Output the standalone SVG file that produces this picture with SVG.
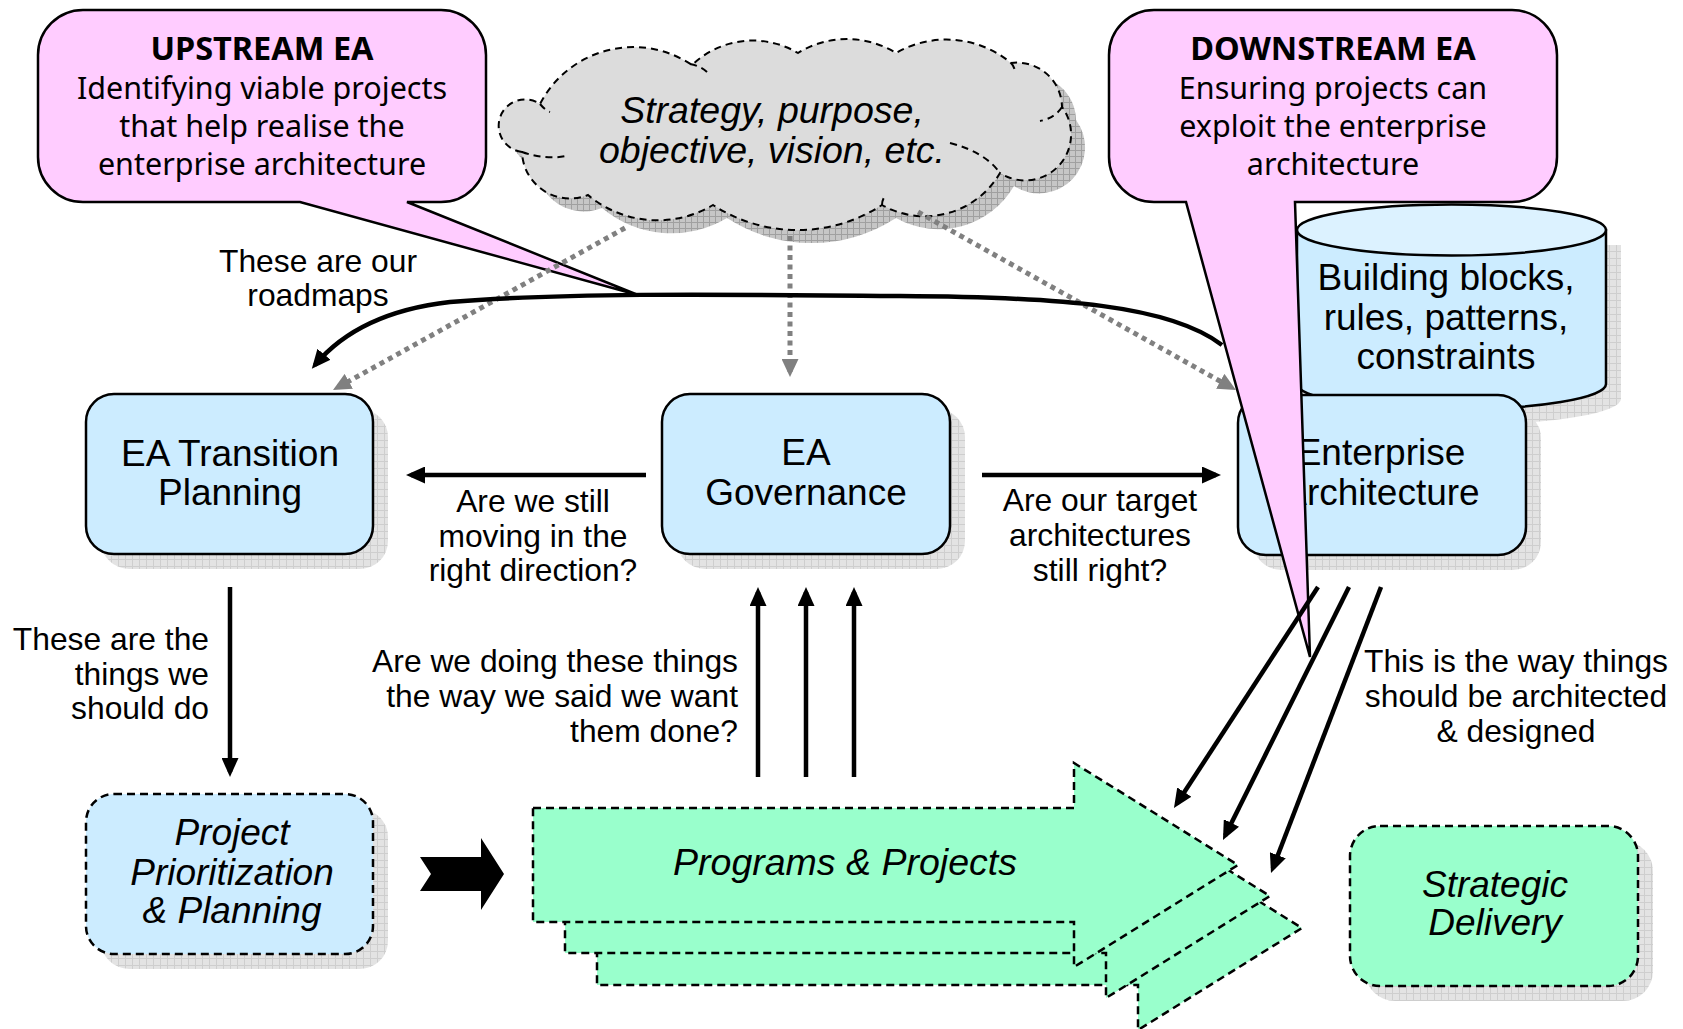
<svg xmlns="http://www.w3.org/2000/svg" width="1683" height="1029" viewBox="0 0 1683 1029">
<defs>
<style>
.t{font-family:"Liberation Sans",Arial,sans-serif;fill:#000}
.nt{font-size:37px;text-anchor:middle}
.lb{font-size:31.8px}
.mid{text-anchor:middle}
.end{text-anchor:end}
.it{font-style:italic}
.big{font-size:37.5px}
.co{font-family:"Noto Sans","DejaVu Sans",sans-serif;font-size:30.5px;text-anchor:middle;fill:#000}
.cob{font-weight:bold;font-size:32.5px}
.blue{fill:#CCECFF;stroke:#000;stroke-width:2.5}
.green{fill:#99FFCC;stroke:#000;stroke-width:2.5;stroke-dasharray:8 5}
.dash{stroke-dasharray:8 5}
.pink{fill:#FFCCFF;stroke:#000;stroke-width:2.5;stroke-linejoin:miter}
.sh{fill:url(#grid)}
.arr{fill:none;stroke:#000;stroke-width:4.5;marker-end:url(#ah)}
.dot{fill:none;stroke:#808080;stroke-width:5;stroke-dasharray:5 4.5;marker-end:url(#gah)}
</style>
<pattern id="grid" width="7" height="7" patternUnits="userSpaceOnUse"><rect width="7" height="7" fill="#E3E3E3"/><path d="M6.5,0 V7 M0,6.5 H7" stroke="#CECECE" stroke-width="1"/></pattern>
<pattern id="grid2" width="6" height="6" patternUnits="userSpaceOnUse"><rect width="6" height="6" fill="#C6C6C6"/><path d="M5.5,0 V6 M0,5.5 H6" stroke="#A0A0A0" stroke-width="1"/></pattern>
<marker id="ah" markerUnits="userSpaceOnUse" viewBox="0 0 19 17" markerWidth="19" markerHeight="17" refX="14" refY="8.5" orient="auto"><path d="M0,0 L19,8.5 L0,17 Z" fill="#000"/></marker>
<marker id="gah" markerUnits="userSpaceOnUse" viewBox="0 0 18 17" markerWidth="18" markerHeight="17" refX="13" refY="8.5" orient="auto"><path d="M0,0 L18,8.5 L0,17 Z" fill="#808080"/></marker>
<path id="cloudp" d="M522,152 A26.4,26.4 0 1 1 540,104 A105,105 0 0 1 692,65 A88,88 0 0 1 798,53 A93,93 0 0 1 896,53 A101,101 0 0 1 1011,63 A45,45 0 0 1 1062,107 A46,46 0 0 1 1000,173 A87,87 0 0 1 882,205 A155,155 0 0 1 713,205 A108,108 0 0 1 588,195 A48,48 0 0 1 522,152 Z"/>
</defs>
<rect width="1683" height="1029" fill="#fff"/>

<g id="cloud">
<use href="#cloudp" transform="translate(14,13)" fill="url(#grid2)"/>
<use href="#cloudp" fill="#DCDCDC" stroke="#000" stroke-width="2" stroke-dasharray="7 5"/>
<path d="M522,152 Q545,160 566,156 M690,64 Q701,66 708,73 M950,143 Q985,152 1000,173 M1062,107 Q1055,118 1040,121 M1011,63 Q1014,66 1015,71 M882,205 Q882,200 885,196 M540,104 Q545,110 550,112" fill="none" stroke="#000" stroke-width="2" stroke-dasharray="7 5"/>
<text class="t it mid big" x="772" y="123">Strategy, purpose,</text>
<text class="t it mid big" x="772" y="163">objective, vision, etc.</text>
</g>

<g id="building-blocks">
<path d="M1312,245 V399 A154.5,25.5 0 0 0 1621,399 V245 Z" class="sh"/>
<path d="M1297,230 V384 A154.5,25.5 0 0 0 1606,384 V230 Z" class="blue"/>
<ellipse cx="1451.5" cy="230" rx="154.5" ry="25.5" fill="#DCF2FF" stroke="#000" stroke-width="2.5"/>
<text class="t nt" x="1446" y="290">Building blocks,</text>
<text class="t nt" x="1446" y="330">rules, patterns,</text>
<text class="t nt" x="1446" y="369">constraints</text>
</g>

<g id="ea-transition">
<rect x="101" y="409" width="287" height="160" rx="28" class="sh"/>
<rect x="86" y="394" width="287" height="160" rx="28" class="blue"/>
<text class="t nt" x="230" y="466">EA Transition</text>
<text class="t nt" x="230" y="505">Planning</text>
</g>

<g id="ea-governance">
<rect x="677" y="409" width="288" height="160" rx="28" class="sh"/>
<rect x="662" y="394" width="288" height="160" rx="28" class="blue"/>
<text class="t nt" x="806" y="465">EA</text>
<text class="t nt" x="806" y="505">Governance</text>
</g>

<g id="enterprise-architecture">
<rect x="1253" y="410" width="288" height="160" rx="28" class="sh"/>
<rect x="1238" y="395" width="288" height="160" rx="28" class="blue"/>
<text class="t nt" x="1381" y="465">Enterprise</text>
<text class="t nt" x="1381" y="505">Architecture</text>
</g>

<g id="project-prioritization">
<rect x="101" y="809" width="287" height="160" rx="28" class="sh"/>
<rect x="86" y="794" width="287" height="160" rx="28" class="blue dash"/>
<text class="t nt it" x="232" y="845">Project</text>
<text class="t nt it" x="232" y="885">Prioritization</text>
<text class="t nt it" x="232" y="923">&amp; Planning</text>
</g>

<g id="strategic-delivery">
<rect x="1365" y="841" width="288" height="160" rx="30" class="sh"/>
<rect x="1350" y="826" width="288" height="160" rx="30" class="green"/>
<text class="t nt it" x="1495" y="897">Strategic</text>
<text class="t nt it" x="1495" y="935">Delivery</text>
</g>

<g id="programs-projects">
<polygon points="597,871 1138,871 1138,826 1302,928 1138,1030 1138,985 597,985" class="green"/>
<polygon points="565,839 1106,839 1106,794 1270,896 1106,998 1106,953 565,953" class="green"/>
<polygon points="533,808 1074,808 1074,763 1238,865 1074,967 1074,922 533,922" class="green"/>
<text class="t it mid big" x="845" y="875">Programs &amp; Projects</text>
</g>

<g id="upstream-ea">
<path class="pink" d="M83,10 H441 A45,45 0 0 1 486,55 V157 A45,45 0 0 1 441,202 H407 L638,295 L300,202 H83 A45,45 0 0 1 38,157 V55 A45,45 0 0 1 83,10 Z"/>
<text class="co cob" x="262" y="60">UPSTREAM EA</text>
<text class="co" x="262" y="99">Identifying viable projects</text>
<text class="co" x="262" y="137">that help realise the</text>
<text class="co" x="262" y="175">enterprise architecture</text>
</g>

<g id="downstream-ea">
<path class="pink" d="M1154,10 H1512 A45,45 0 0 1 1557,55 V157 A45,45 0 0 1 1512,202 H1295 L1310,657 L1186,202 H1154 A45,45 0 0 1 1109,157 V55 A45,45 0 0 1 1154,10 Z"/>
<text class="co cob" x="1333" y="60">DOWNSTREAM EA</text>
<text class="co" x="1333" y="99">Ensuring projects can</text>
<text class="co" x="1333" y="137">exploit the enterprise</text>
<text class="co" x="1333" y="175">architecture</text>
</g>

<g id="connectors">
<path class="dot" d="M625,228 L337.4,387.6"/>
<path class="dot" d="M790,236 L790,372"/>
<path class="dot" d="M918,212 L1231.6,387.6"/>
<path class="arr" d="M1222,345 C1170,305 1060,297 900,296 C700,294 560,293 450,302 C380,310 340,335 315,365"/>
<path class="arr" d="M646,475 L411,475"/>
<path class="arr" d="M982,475 L1216,475"/>
<path class="arr" d="M230,587 L230,772"/>
<path class="arr" d="M758,777 L758,592"/>
<path class="arr" d="M806,777 L806,592"/>
<path class="arr" d="M854,777 L854,592"/>
<path class="arr" d="M1318,587 L1176.7,803.8"/>
<path class="arr" d="M1349,587 L1225.2,835.5"/>
<path class="arr" d="M1381,587 L1272.8,868.3"/>
<polygon points="420,857 481,857 481,838 504,874 481,910 481,891 420,891 431,874" fill="#000"/>
</g>

<g id="labels">
<text class="t lb mid" x="318" y="272">These are our</text>
<text class="t lb mid" x="318" y="306">roadmaps</text>
<text class="t lb mid" x="533" y="512">Are we still</text>
<text class="t lb mid" x="533" y="547">moving in the</text>
<text class="t lb mid" x="533" y="581">right direction?</text>
<text class="t lb mid" x="1100" y="511">Are our target</text>
<text class="t lb mid" x="1100" y="546">architectures</text>
<text class="t lb mid" x="1100" y="581">still right?</text>
<text class="t lb end" x="209" y="650">These are the</text>
<text class="t lb end" x="209" y="685">things we</text>
<text class="t lb end" x="209" y="719">should do</text>
<text class="t lb end" x="738" y="672">Are we doing these things</text>
<text class="t lb end" x="738" y="707">the way we said we want</text>
<text class="t lb end" x="738" y="742">them done?</text>
<text class="t lb mid" x="1516" y="672">This is the way things</text>
<text class="t lb mid" x="1516" y="707">should be architected</text>
<text class="t lb mid" x="1516" y="742">&amp; designed</text>
</g>
</svg>
